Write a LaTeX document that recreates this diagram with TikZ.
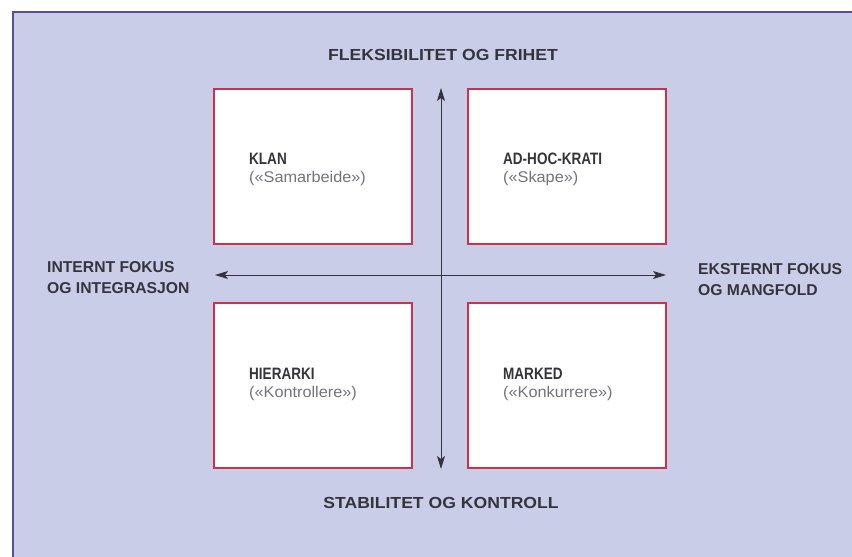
\documentclass[tikz,border=0pt]{standalone}
\usepackage{fontspec}
\setmainfont{Liberation Sans}
\newfontfamily\widesans[FakeStretch=1.1]{Liberation Sans}
\newfontfamily\narrowsans[FakeStretch=0.82]{Liberation Sans}
\newfontfamily\subsans[FakeStretch=1.05]{Liberation Sans}
\usetikzlibrary{arrows.meta}
\definecolor{bg}{HTML}{C9CDE7}
\definecolor{frame}{HTML}{5B4D8F}
\definecolor{boxred}{HTML}{CF3048}
\definecolor{ink}{HTML}{34343C}
\definecolor{subink}{HTML}{74747C}
\begin{document}
\begin{tikzpicture}[x=1pt,y=-1pt,
  quad/.style={draw=boxred, fill=white, line width=2pt, minimum width=198pt, inner sep=0pt},
  head/.style={text=ink, font=\widesans\fontsize{16}{21}\selectfont\bfseries, inner sep=0pt},
  side/.style={text=ink, font=\fontsize{15.7}{21}\selectfont\bfseries, inner sep=0pt, anchor=west, align=left},
  boxtitle/.style={text=ink, font=\narrowsans\fontsize{16.5}{18}\selectfont\bfseries, inner sep=0pt, anchor=base west},
  boxsub/.style={text=subink, font=\subsans\fontsize{15.5}{18}\selectfont, inner sep=0pt, anchor=base west},
  axis/.style={draw=ink, line width=1pt, {Stealth[length=13pt,width=8pt,inset=3pt]}-{Stealth[length=13pt,width=8pt,inset=3pt]}}
]
\useasboundingbox (0,0) rectangle (852,557);
\fill[white] (0,0) rectangle (852,557);
\fill[bg] (12,11) rectangle (852,557);
\draw[frame, line width=2.5pt] (13.2,557) -- (13.2,12.2) -- (852,12.2);

% quadrant boxes
\node[quad, minimum height=155pt] (klan) at (313,166.5) {};
\node[quad, minimum height=155pt] (adhoc) at (567,166.5) {};
\node[quad, minimum height=165pt] (hier) at (313,385.5) {};
\node[quad, minimum height=165pt] (mark) at (567,385.5) {};

% box texts (yshift is upward)
\node[boxtitle] (klanT) at ([xshift=36pt,yshift=2pt]klan.west) {KLAN};
\node[boxsub] (klanS) at ([xshift=36pt,yshift=-16pt]klan.west) {(«Samarbeide»)};
\node[boxtitle] (adhocT) at ([xshift=36pt,yshift=2pt]adhoc.west) {AD-HOC-KRATI};
\node[boxsub] (adhocS) at ([xshift=36pt,yshift=-16pt]adhoc.west) {(«Skape»)};
\node[boxtitle] (hierT) at ([xshift=36pt,yshift=6.5pt]hier.west) {HIERARKI};
\node[boxsub] (hierS) at ([xshift=36pt,yshift=-11.5pt]hier.west) {(«Kontrollere»)};
\node[boxtitle] (markT) at ([xshift=36pt,yshift=6.5pt]mark.west) {MARKED};
\node[boxsub] (markS) at ([xshift=36pt,yshift=-11.5pt]mark.west) {(«Konkurrere»)};

% axes
\coordinate (top) at (441,88);
\coordinate (bot) at (441,469);
\coordinate (lft) at (215,275);
\coordinate (rgt) at (666,275);
\draw[axis] (lft) -- (rgt);
\draw[axis] (top) -- (bot);

% axis labels
\node[head] (north) at (443,55) {FLEKSIBILITET OG FRIHET};
\node[head] (south) at (441,503) {STABILITET OG KONTROLL};
\node[side] (west) at (47,277.5) {INTERNT FOKUS\\OG INTEGRASJON};
\node[side] (east) at (698,280) {EKSTERNT FOKUS\\OG MANGFOLD};
\end{tikzpicture}
\end{document}
